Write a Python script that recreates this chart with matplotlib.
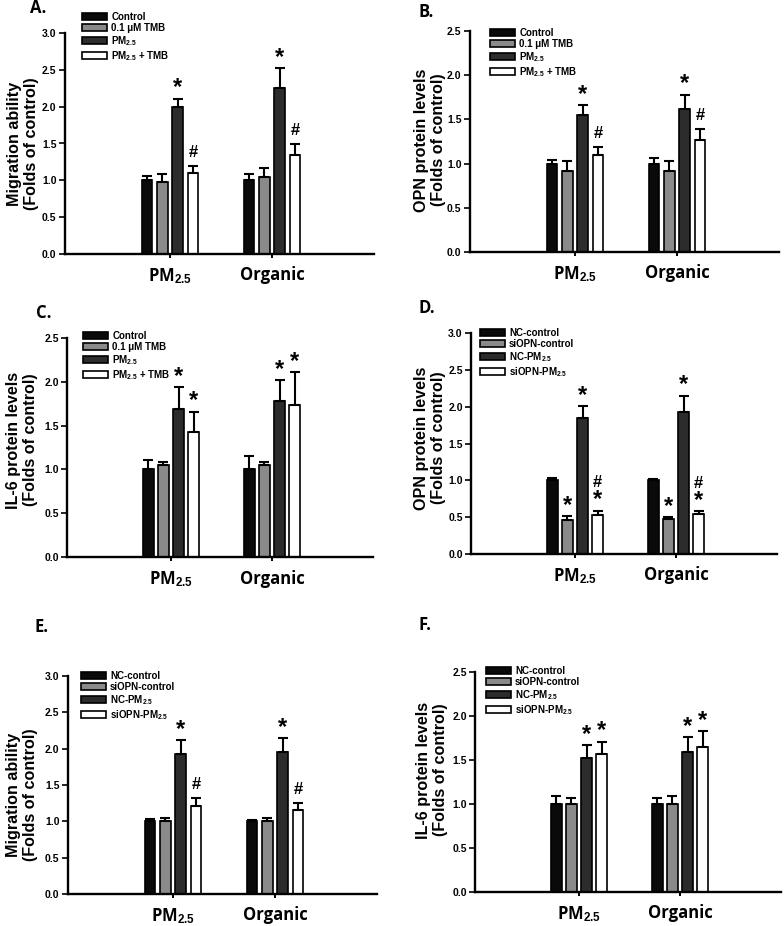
import matplotlib
matplotlib.use('Agg')
import matplotlib.pyplot as plt
import numpy as np
from matplotlib.patches import Patch
from matplotlib.font_manager import FontProperties

plt.rcParams['mathtext.fontset'] = 'custom'
plt.rcParams['mathtext.rm'] = 'Liberation Sans:bold'
plt.rcParams['mathtext.bf'] = 'Liberation Sans:bold'
plt.rcParams['mathtext.it'] = 'Liberation Sans:bold'
plt.rcParams['mathtext.default'] = 'bf'

# ---------------- data ----------------
groups = ['PM$_{2.5}$', 'Organic']
tmb_labels = ['Control', '0.1 \u03bcM TMB', 'PM$_{2.5}$', 'PM$_{2.5}$ + TMB']
si_labels = ['NC-control', 'siOPN-control', 'NC-PM$_{2.5}$', 'siOPN-PM$_{2.5}$']
bar_colors = ['#0a0a0a', '#8a8a8a', '#2c2c2c', '#ffffff']

# each row = one series, columns = [PM2.5, Organic]
A_means = [[1.00, 1.00], [0.98, 1.04], [1.99, 2.26], [1.10, 1.35]]
A_err = [[0.06, 0.09], [0.10, 0.13], [0.12, 0.26], [0.09, 0.14]]
A_marks = [['', ''], ['', ''], ['*', '*'], ['#', '#']]

B_means = [[1.00, 1.00], [0.92, 0.92], [1.55, 1.62], [1.10, 1.27]]
B_err = [[0.04, 0.06], [0.11, 0.11], [0.11, 0.16], [0.09, 0.12]]
B_marks = [['', ''], ['', ''], ['*', '*'], ['#', '#']]

C_means = [[1.00, 1.00], [1.05, 1.05], [1.69, 1.78], [1.43, 1.74]]
C_err = [[0.11, 0.15], [0.04, 0.04], [0.25, 0.24], [0.23, 0.37]]
C_marks = [['', ''], ['', ''], ['*', '*'], ['*', '*']]

D_means = [[1.00, 1.00], [0.46, 0.48], [1.84, 1.93], [0.53, 0.54]]
D_err = [[0.03, 0.02], [0.05, 0.02], [0.17, 0.22], [0.06, 0.04]]
D_marks = [['', ''], ['*', '*'], ['*', '*'], ['*#', '*#']]

E_means = [[1.00, 1.00], [1.00, 1.00], [1.93, 1.95], [1.21, 1.16]]
E_err = [[0.03, 0.02], [0.05, 0.05], [0.19, 0.20], [0.11, 0.09]]
E_marks = [['', ''], ['', ''], ['*', '*'], ['#', '#']]

F_means = [[1.00, 1.00], [1.00, 1.00], [1.52, 1.59], [1.57, 1.65]]
F_err = [[0.09, 0.07], [0.07, 0.09], [0.15, 0.17], [0.14, 0.18]]
F_marks = [['', ''], ['', ''], ['*', '*'], ['*', '*']]

# ---------------- layout ----------------
W, H = 784, 926
fig = plt.figure(figsize=(W / 100, H / 100), dpi=100)

panels = [
    dict(letter='A.', t1=170, s=102, T=33, B=254, ymax=3.0, means=A_means, err=A_err, marks=A_marks,
         labels=tmb_labels, ylabel='Migration ability\n(Folds of control)', ylab=(23, 144),
         let=(30, 8), leg=(82, 12)),
    dict(letter='B.', t1=575, s=102, T=31, B=252, ymax=2.5, means=B_means, err=B_err, marks=B_marks,
         labels=tmb_labels, ylabel='OPN protein levels\n(Folds of control)', ylab=(430, 140),
         let=(418, 12), leg=(490, 28)),
    dict(letter='C.', t1=171, s=101, T=338, B=557, ymax=2.5, means=C_means, err=C_err, marks=C_marks,
         labels=tmb_labels, ylabel='IL-6 protein levels\n(Folds of control)', ylab=(22, 440),
         let=(36, 313), leg=(83, 331)),
    dict(letter='D.', t1=575, s=101, T=333, B=554, ymax=3.0, means=D_means, err=D_err, marks=D_marks,
         labels=si_labels, ylabel='OPN protein levels\n(Folds of control)', ylab=(430, 438),
         let=(418, 308), leg=(480, 328)),
    dict(letter='E.', t1=173, s=102, T=676, B=894, ymax=3.0, means=E_means, err=E_err, marks=E_marks,
         labels=si_labels, ylabel='Migration ability\n(Folds of control)', ylab=(22, 795),
         let=(34, 627), leg=(81, 671)),
    dict(letter='F.', t1=579, s=101, T=672, B=892, ymax=2.5, means=F_means, err=F_err, marks=F_marks,
         labels=si_labels, ylabel='IL-6 protein levels\n(Folds of control)', ylab=(432, 770),
         let=(418, 625), leg=(486, 666)),
]

offsets = [-0.225, -0.075, 0.075, 0.225]
XL, XR = -1.03, 2.0
tick_fp = FontProperties(family='Liberation Sans', weight='bold', size=7.5)
leg_fp = FontProperties(family='Liberation Sans', weight='bold', size=7)

for p in panels:
    left = p['t1'] + XL * p['s']
    right = p['t1'] + XR * p['s']
    rect = [left / W, 1 - p['B'] / H, (right - left) / W, (p['B'] - p['T']) / H]
    ax = fig.add_axes(rect)
    x = np.arange(len(groups))
    for i in range(4):
        xs = x + offsets[i]
        m = np.array(p['means'][i])
        e = np.array(p['err'][i])
        ax.bar(xs, m, width=0.105, color=bar_colors[i], edgecolor='black', linewidth=1.2, zorder=2)
        ax.errorbar(xs, m, yerr=[np.zeros_like(e), e], fmt='none', ecolor='black',
                    elinewidth=1.5, capsize=3.3, capthick=1.5, zorder=3)
        for j in range(len(groups)):
            mk = p['marks'][i][j]
            ytop = m[j] + e[j]
            star_done = False
            for ch in mk:
                if ch == '*':
                    ax.annotate('*', (xs[j], ytop), xytext=(0, 3), textcoords='offset points',
                                ha='center', va='baseline', fontsize=17, fontweight='bold',
                                family='Liberation Sans', annotation_clip=False)
                    star_done = True
                else:
                    yo = 17 if star_done else 6.5
                    ax.annotate('#', (xs[j], ytop), xytext=(0, yo), textcoords='offset points',
                                ha='center', va='baseline', fontsize=12, fontweight='bold',
                                family='Liberation Sans', annotation_clip=False)
    ax.set_xlim(XL, XR)
    ax.set_ylim(0, p['ymax'])
    ax.set_xticks(x)
    ax.set_xticklabels(groups, fontfamily='Open Sans', fontweight='bold', fontsize=12)
    yt = np.arange(0, p['ymax'] + 0.001, 0.5)
    ax.set_yticks(yt)
    ax.set_yticklabels(['%.1f' % v for v in yt], fontproperties=tick_fp)
    ax.tick_params(axis='x', length=3, width=1.4, pad=6, direction='out')
    ax.tick_params(axis='y', length=4, width=1.2, pad=2, direction='out')
    for sp in ['top', 'right']:
        ax.spines[sp].set_visible(False)
    for sp in ['left', 'bottom']:
        ax.spines[sp].set_linewidth(1.7)
    handles = [Patch(facecolor=bar_colors[i], edgecolor='black', linewidth=1.2) for i in range(4)]
    ax.legend(handles, p['labels'], loc='upper left',
              bbox_to_anchor=(p['leg'][0] / W, 1 - p['leg'][1] / H), bbox_transform=fig.transFigure,
              frameon=False, borderpad=0, borderaxespad=0, handlelength=2.6, handleheight=0.75,
              handletextpad=0.4, labelspacing=0.1, prop=leg_fp)
    fig.text(p['ylab'][0] / W, 1 - p['ylab'][1] / H, p['ylabel'], rotation=90, ha='center', va='center',
             multialignment='center', fontsize=11.6, fontweight='bold', family='Liberation Sans',
             linespacing=1.2)
    fig.text(p['let'][0] / W, 1 - p['let'][1] / H, p['letter'], ha='left', va='center',
             fontsize=12, fontweight='bold', family='Open Sans')

fig.savefig('out.png', dpi=100)
